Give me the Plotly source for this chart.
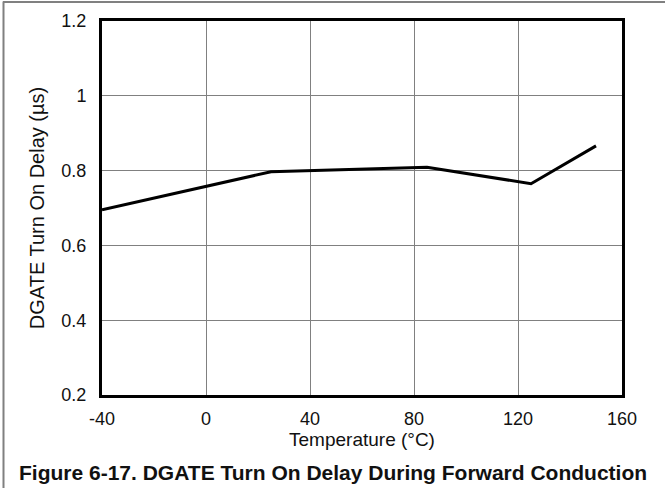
import plotly.graph_objects as go

temperature_c = [-40, 25, 85, 125, 150]
turn_on_delay_us = [0.695, 0.797, 0.809, 0.765, 0.866]
x_ticks = [-40, 0, 40, 80, 120, 160]
x_tick_labels = ["-40", "0", "40", "80", "120", "160"]
y_ticks = [0.2, 0.4, 0.6, 0.8, 1.0, 1.2]
y_tick_labels = ["0.2", "0.4", "0.6", "0.8", "1", "1.2"]

W, H = 665, 488
L, R, T, B = 102, 43, 21, 93
pw, ph = W - L - R, H - T - B

def px(x):
    return (x - L) / pw

def py(y):
    return (H - B - y) / ph

fig = go.Figure()
fig.add_trace(go.Scatter(x=temperature_c, y=turn_on_delay_us, mode="lines",
                         line=dict(color="black", width=3), showlegend=False,
                         hoverinfo="skip"))

font = "Liberation Sans, Arial, sans-serif"
fig.update_layout(
    width=W, height=H,
    margin=dict(l=L, r=R, t=T, b=B),
    paper_bgcolor="white", plot_bgcolor="white",
    font=dict(family=font, size=18, color="#111111"),
    xaxis=dict(range=[-40, 160], tickvals=x_ticks, ticktext=x_tick_labels,
               showgrid=True, gridcolor="#808080", gridwidth=1, zeroline=False,
               showline=True, linecolor="black", linewidth=3, mirror=True,
               ticks="outside", ticklen=5, tickcolor="rgba(0,0,0,0)",
               tickfont=dict(size=18),
               title=dict(text="Temperature (°C)", standoff=1,
                          font=dict(size=19))),
    yaxis=dict(range=[0.2, 1.2], tickvals=y_ticks, ticktext=y_tick_labels,
               showgrid=True, gridcolor="#808080", gridwidth=1, zeroline=False,
               showline=True, linecolor="black", linewidth=3, mirror=True,
               ticks="outside", ticklen=9, tickcolor="rgba(0,0,0,0)",
               tickfont=dict(size=18),
               title=dict(text="DGATE Turn On Delay (µs)", standoff=12,
                          font=dict(size=20))),
    shapes=[
        dict(type="line", xref="paper", yref="paper", x0=px(3.5), x1=px(3.5),
             y0=py(1.5), y1=py(488), line=dict(color="#808080", width=2)),
        dict(type="line", xref="paper", yref="paper", x0=px(3), x1=px(665),
             y0=py(2), y1=py(2), line=dict(color="#808080", width=2)),
    ],
    annotations=[
        dict(text="<b>Figure 6-17. DGATE Turn On Delay During Forward Conduction</b>",
             xref="paper", yref="paper", x=px(333), y=py(472),
             xanchor="center", yanchor="middle", showarrow=False,
             font=dict(size=21, family=font, color="#111111")),
    ],
)

fig.write_html("out.html", config={"displayModeBar": False},
               post_script="document.body.style.margin='0';document.body.style.overflow='hidden';")
